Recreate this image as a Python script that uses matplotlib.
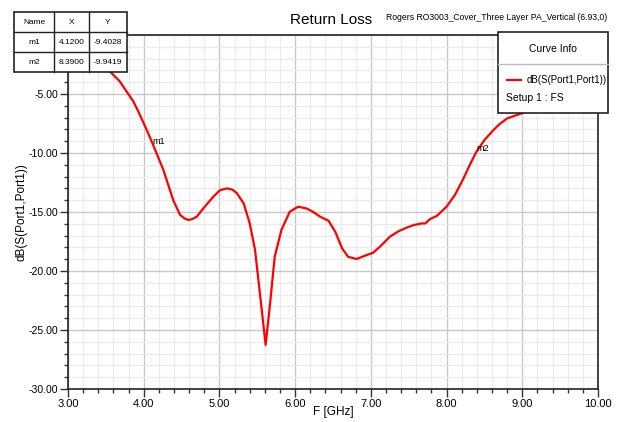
import matplotlib
matplotlib.use("Agg")
import matplotlib.pyplot as plt
from matplotlib.patches import Rectangle
from matplotlib.lines import Line2D
from matplotlib.ticker import MultipleLocator

# S11 curve
freq_ghz = [3.00, 3.20, 3.40, 3.555, 3.68, 3.775, 3.86, 3.93, 4.04, 4.13,
            4.26, 4.39, 4.48, 4.54, 4.59, 4.64, 4.70, 4.80, 4.92, 5.01,
            5.10, 5.17, 5.23, 5.32, 5.40, 5.47, 5.54, 5.61, 5.67, 5.73,
            5.82, 5.93, 6.04, 6.15, 6.24, 6.33, 6.44, 6.53, 6.62, 6.70,
            6.81, 6.95, 7.03, 7.12, 7.25, 7.36, 7.47, 7.57, 7.67, 7.72,
            7.78, 7.87, 8.00, 8.11, 8.22, 8.30, 8.39, 8.50, 8.62, 8.70,
            8.80, 8.99, 9.20, 9.50, 9.80, 10.00]
s11_db = [-1.5, -2.0, -2.5, -3.1, -3.9, -4.8, -5.6, -6.5, -8.05, -9.4,
          -11.44, -14.0, -15.25, -15.55, -15.68, -15.6, -15.4, -14.6, -13.7, -13.14,
          -13.0, -13.1, -13.4, -14.27, -15.96, -18.2, -22.2, -26.27, -22.7, -18.8,
          -16.5, -14.97, -14.55, -14.7, -15.0, -15.4, -15.74, -16.67, -18.08, -18.8,
          -18.98, -18.64, -18.45, -17.94, -17.1, -16.65, -16.33, -16.1, -15.97, -15.97,
          -15.6, -15.34, -14.55, -13.56, -12.2, -11.1, -9.94, -8.9, -8.05, -7.55,
          -7.07, -6.64, -6.3, -5.8, -5.2, -4.9]

marker_names = ["m1", "m2"]
marker_x = [4.12, 8.39]
marker_y = [-9.4028, -9.9419]

x_ticks = [3, 4, 5, 6, 7, 8, 9, 10]
y_ticks = [-30, -25, -20, -15, -10, -5]

SANS = ["Liberation Sans", "DejaVu Sans"]

W, H = 625, 422
fig = plt.figure(figsize=(W / 100, H / 100), dpi=100)


def px(x, y):
    # pixel position (from top-left) -> figure fraction
    return x / W, 1 - y / H


ax = fig.add_axes([68 / W, 1 - 389 / H, (598 - 68) / W, (389 - 35) / H])
ax.plot(freq_ghz, s11_db, color="red", lw=1.6, zorder=3)
ax.set_xlim(3, 10)
ax.set_ylim(-30, 0)
ax.set_xticks(x_ticks)
ax.set_yticks(y_ticks)
ax.set_xticklabels([f"{v:.2f}" for v in x_ticks], family=SANS, fontsize=8)
ax.set_yticklabels([f"{v:.2f}" for v in y_ticks], family=SANS, fontsize=7.6)
ax.xaxis.set_minor_locator(MultipleLocator(0.2))
ax.yaxis.set_minor_locator(MultipleLocator(1))
ax.grid(which="major", color="#c8c8c8", lw=1.0)
ax.grid(which="minor", color="#ebebeb", lw=0.9)
ax.set_axisbelow(True)
ax.tick_params(which="major", direction="out", length=6, width=1, color="#333333", pad=1)
ax.tick_params(which="minor", direction="out", length=3, width=1, color="#333333")
for s in ax.spines.values():
    s.set_color("#222222")
    s.set_linewidth(1.2)

ax.set_xlabel("F [GHz]", family=SANS, fontsize=8.5, labelpad=-2)
ax.set_ylabel("dB(S(Port1,Port1))", family=SANS, fontsize=8.5, labelpad=1)

# marker labels on the curve
for name, mx, my in zip(marker_names, marker_x, marker_y):
    ax.text(mx, my + 0.35, name, family=SANS, fontsize=6.5, ha="left", va="center", zorder=4)

# titles
fig.text(*px(331, 20), "Return Loss", family=SANS, fontsize=11, ha="center", va="center")
fig.text(*px(607, 18), "Rogers RO3003_Cover_Three Layer PA_Vertical (6.93,0)",
         family=SANS, fontsize=6.2, ha="right", va="center")

# marker table (top-left)
cols = [14, 54, 89, 127]
rows = [12, 32, 52, 72]
x0, y0 = px(cols[0], rows[-1])
x1, y1 = px(cols[-1], rows[0])
fig.add_artist(Rectangle((x0, y0), x1 - x0, y1 - y0, transform=fig.transFigure,
                         facecolor="white", edgecolor="#222222", lw=1.2, zorder=10))
for c in cols[1:-1]:
    a, b = px(c, rows[0])
    _, d = px(c, rows[-1])
    fig.add_artist(Line2D([a, a], [b, d], transform=fig.transFigure, color="#222222", lw=1, zorder=11))
for r in rows[1:-1]:
    a, b = px(cols[0], r)
    c, _ = px(cols[-1], r)
    fig.add_artist(Line2D([a, c], [b, b], transform=fig.transFigure, color="#222222", lw=1, zorder=11))
table_rows = [["Name", "X", "Y"]] + [[n, f"{mx:.4f}", f"{my:.4f}"]
                                     for n, mx, my in zip(marker_names, marker_x, marker_y)]
for i, row in enumerate(table_rows):
    for j, txt in enumerate(row):
        cx = (cols[j] + cols[j + 1]) / 2
        cy = (rows[i] + rows[i + 1]) / 2
        fig.text(*px(cx, cy), txt, family=SANS, fontsize=6, ha="center", va="center", zorder=12)

# curve info box (top-right)
bx0, by0 = px(498, 113)
bx1, by1 = px(608, 32)
fig.add_artist(Rectangle((bx0, by0), bx1 - bx0, by1 - by0, transform=fig.transFigure,
                         facecolor="white", edgecolor="#222222", lw=1.2, zorder=10))
a, b = px(498, 64)
c, _ = px(608, 64)
fig.add_artist(Line2D([a, c], [b, b], transform=fig.transFigure, color="#bbbbbb", lw=1, zorder=11))
fig.text(*px(553, 49), "Curve Info", family=SANS, fontsize=7.5, ha="center", va="center", zorder=12)
a, b = px(507, 80)
c, _ = px(521, 80)
fig.add_artist(Line2D([a, c], [b, b], transform=fig.transFigure, color="red", lw=1.6, zorder=11))
fig.text(*px(527, 80), "dB(S(Port1,Port1))", family=SANS, fontsize=7, ha="left", va="center", zorder=12)
fig.text(*px(506, 98), "Setup 1 : FS", family=SANS, fontsize=7.5, ha="left", va="center", zorder=12)

fig.savefig("out.png", dpi=100)
